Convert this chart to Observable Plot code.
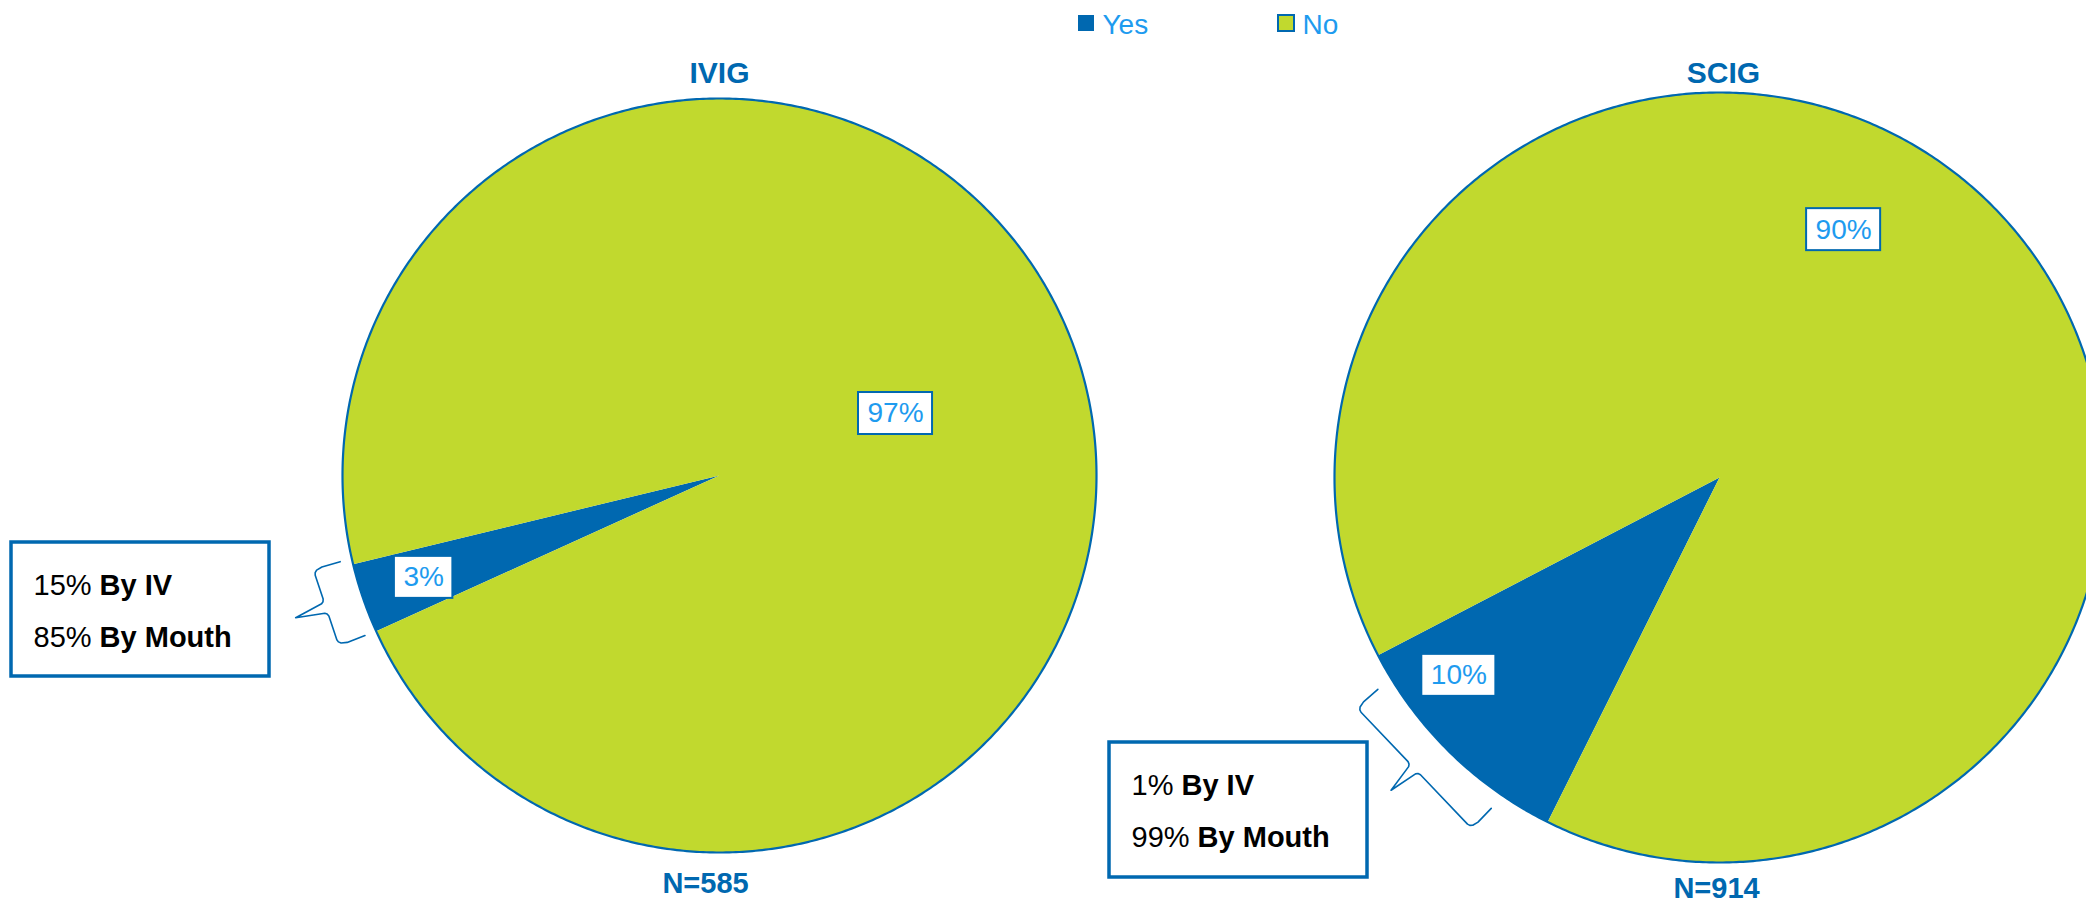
<!DOCTYPE html>
<html><head><meta charset="utf-8">
<script src="https://cdn.jsdelivr.net/npm/d3@7"></script>
<script src="https://cdn.jsdelivr.net/npm/@observablehq/plot@0.6"></script>
<style>html,body{margin:0;padding:0;background:#fff;overflow:hidden}</style>
</head><body><div id="chart"></div>
<script>
// ---- data ----
const pies = ["IVIG", "SCIG"];
const categories = ["Yes", "No"];
const yesPct = [3, 10];
const noPct = [97, 90];
const sampleSizes = [585, 914];
const routes = ["By IV", "By Mouth"];
const ivigRoutePct = [15, 85];
const scigRoutePct = [1, 99];

// ---- styles / layout ----
const darkBlue = "#0068B0";
const green = "#C1D92E";
const lightBlue = "#1E9BEF";
const FONT = "'Liberation Sans', Arial, Helvetica, sans-serif";
const W = 2086, H = 909;

const layout = [
  {cx: 719, cy: 475, r: 377, start: 245.6, titleX: 719, titleY: 82, nX: 705, nY: 892,
   labels: {Yes: [251, 0.83], No: [70.6, 0.495]},
   brace: {a0: 245.7, a1: 257.2, gap: 12},
   box: {x: 11, y: 542, w: 258, h: 134}},
  {cx: 1719, cy: 477, r: 385, start: 206.5, titleX: 1723, titleY: 82, nX: 1716, nY: 897,
   labels: {Yes: [232.8, 0.85], No: [26.6, 0.72]},
   brace: {a0: 214.6, a1: 238.2, gap: 17},
   box: {x: 1109, y: 742, w: 258, h: 135}}
];
const legendLayout = [{x: 1078}, {x: 1278}];

const ctx = document.createElement("canvas").getContext("2d");
function tw(str, size, weight = "normal") {
  ctx.font = `${weight} ${size}px "Liberation Sans", Arial`;
  return ctx.measureText(str).width;
}
const rad = a => a * Math.PI / 180;
const pt = (L, a, rr) => [L.cx + rr * Math.sin(rad(a)), L.cy - rr * Math.cos(rad(a))];

// ---- build geometry from values ----
const slicePts = [], outlinePts = [], labelBoxes = [], labelTexts = [], bracePts = [];
pies.forEach((pie, i) => {
  const L = layout[i];
  const vals = [yesPct[i], noPct[i]];
  const total = d3.sum(vals);
  let a = L.start;
  vals.forEach((v, j) => {
    const cat = categories[j];
    const a0 = a, a1 = a + v / total * 360;
    const key = pie + "-" + cat;
    slicePts.push({key, cat, x: L.cx, y: L.cy});
    const n = Math.max(2, Math.ceil((a1 - a0) / 0.5));
    for (let k = 0; k <= n; k++) {
      const [x, y] = pt(L, a0 + (a1 - a0) * k / n, L.r);
      slicePts.push({key, cat, x, y});
    }
    const [la, lf] = L.labels[cat];
    const [lx, ly] = pt(L, la, L.r * lf);
    const text = v + "%";
    const bw = tw(text, 28) + 18, bh = 42;
    labelBoxes.push({x1: lx - bw / 2, x2: lx + bw / 2, y1: ly - bh / 2, y2: ly + bh / 2});
    labelTexts.push({x: lx, y: ly, text});
    a = a1;
  });
  for (let k = 0; k <= 720; k++) {
    const [x, y] = pt(L, k / 2, L.r);
    outlinePts.push({key: pie, x, y});
  }
  // curly brace beside the Yes slice
  const B = L.brace;
  const A0 = pt(L, B.a0, L.r + B.gap), A1 = pt(L, B.a1, L.r + B.gap);
  const M = [(A0[0] + A1[0]) / 2, (A0[1] + A1[1]) / 2];
  const half = Math.hypot(A1[0] - A0[0], A1[1] - A0[1]) / 2;
  const t = [(A1[0] - A0[0]) / (2 * half), (A1[1] - A0[1]) / (2 * half)];
  const nl = Math.hypot(M[0] - L.cx, M[1] - L.cy);
  const nv = [(M[0] - L.cx) / nl, (M[1] - L.cy) / nl];
  const w = 28;
  const local = [[-half, 0], [-half - 0.8, w - 9], [-half + 0.5, w - 3], [-half + 2.5, w - 0.8], [-half + 5, w],
                 [-9, w], [-6.5, w + 1], [-5, w + 3], [0, w + 32],
                 [5, w + 3], [6.5, w + 1], [9, w],
                 [half - 5, w], [half - 2.5, w - 0.8], [half - 0.5, w - 3], [half + 0.8, w - 9], [half, 0]];
  local.forEach(([s, d]) => bracePts.push({key: pie, x: M[0] + s * t[0] + d * nv[0], y: M[1] + s * t[1] + d * nv[1]}));
});

// annotation boxes
const routeData = [ivigRoutePct, scigRoutePct];
const annBoxes = [], annPct = [], annRoute = [];
pies.forEach((pie, i) => {
  const b = layout[i].box;
  annBoxes.push({x1: b.x, x2: b.x + b.w, y1: b.y, y2: b.y + b.h});
  routes.forEach((r, j) => {
    const p = routeData[i][j] + "% ";
    const y = b.y + 52 + j * 52;
    const x = b.x + 22;
    annPct.push({x, y, text: p});
    annRoute.push({x: x + tw(p, 29), y, text: r});
  });
});

const titles = pies.map((p, i) => ({x: layout[i].titleX, y: layout[i].titleY, text: p}));
const nTexts = sampleSizes.map((n, i) => ({x: layout[i].nX, y: layout[i].nY, text: "N=" + n}));
const legendItems = categories.map((c, i) => ({cat: c, x: legendLayout[i].x}));

const chart = Plot.plot({
  width: W, height: H, margin: 0,
  x: {domain: [0, W], range: [0, W], axis: null},
  y: {domain: [0, H], range: [0, H], axis: null},
  color: {domain: categories, range: [darkBlue, green]},
  style: {fontFamily: FONT, background: "white", overflow: "visible"},
  marks: [
    Plot.line(slicePts, {x: "x", y: "y", z: "key", fill: "cat", stroke: null, curve: "linear"}),
    Plot.line(outlinePts, {x: "x", y: "y", z: "key", stroke: darkBlue, strokeWidth: 2.2}),
    Plot.rect(labelBoxes, {x1: "x1", x2: "x2", y1: "y1", y2: "y2", fill: "white", stroke: darkBlue, strokeWidth: 2}),
    Plot.text(labelTexts, {x: "x", y: "y", text: "text", fill: lightBlue, fontSize: 28, lineAnchor: "middle", textAnchor: "middle"}),
    Plot.line(bracePts, {x: "x", y: "y", z: "key", stroke: darkBlue, strokeWidth: 1.6, curve: "linear"}),
    Plot.rect(annBoxes, {x1: "x1", x2: "x2", y1: "y1", y2: "y2", fill: "white", stroke: darkBlue, strokeWidth: 3.5}),
    Plot.text(annPct, {x: "x", y: "y", text: "text", fill: "#000", fontSize: 29, textAnchor: "start", lineAnchor: "bottom"}),
    Plot.text(annRoute, {x: "x", y: "y", text: "text", fill: "#000", fontSize: 29, fontWeight: "bold", textAnchor: "start", lineAnchor: "bottom"}),
    Plot.text(titles, {x: "x", y: "y", text: "text", fill: darkBlue, fontSize: 30, fontWeight: "bold", textAnchor: "middle", lineAnchor: "bottom"}),
    Plot.text(nTexts, {x: "x", y: "y", text: "text", fill: darkBlue, fontSize: 29, fontWeight: "bold", textAnchor: "middle", lineAnchor: "bottom"}),
    Plot.rect(legendItems, {x1: d => d.x, x2: d => d.x + 16, y1: 15, y2: 31, fill: "cat", stroke: darkBlue, strokeWidth: d => d.cat === "No" ? 2 : 0}),
    Plot.text(legendItems, {x: d => d.x + 24, y: 33, text: "cat", fill: lightBlue, fontSize: 28, textAnchor: "start", lineAnchor: "bottom"})
  ]
});
document.getElementById("chart").appendChild(chart);
</script>
</body></html>
